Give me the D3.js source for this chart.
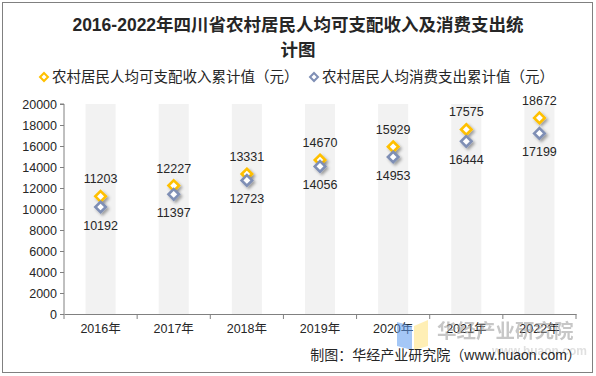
<!DOCTYPE html>
<html>
<head>
<meta charset="utf-8">
<script src="https://cdn.jsdelivr.net/npm/d3@7"></script>
<style>
  body { margin: 0; background: #fff; }
  text { font-family: "Liberation Sans", Arial, "Noto Sans CJK SC", sans-serif; }
</style>
</head>
<body>
<div id="container"></div>
<script>
/* CONSTANTS AND GLOBALS */
const width = 596;
const height = 376;
const margin = { top: 104, right: 20, bottom: 62, left: 64 };

/* DATA */
const years = ["2016年", "2017年", "2018年", "2019年", "2020年", "2021年", "2022年"];
const income = [11203, 12227, 13331, 14670, 15929, 17575, 18672];
const consumption = [10192, 11397, 12723, 14056, 14953, 16444, 17199];
const yTicks = [0, 2000, 4000, 6000, 8000, 10000, 12000, 14000, 16000, 18000, 20000];
const seriesNames = ["农村居民人均可支配收入累计值（元）", "农村居民人均消费支出累计值（元）"];
const colors = ["#FFC000", "#7F8FB5"];

const svg = d3.select("#container").append("svg")
  .attr("width", width)
  .attr("height", height);

const defs = svg.append("defs");
const f = defs.append("filter").attr("id", "shadow")
  .attr("x", "-50%").attr("y", "-50%").attr("width", "220%").attr("height", "220%");
f.append("feDropShadow").attr("dx", 2).attr("dy", 2).attr("stdDeviation", 1.6)
  .attr("flood-color", "#000").attr("flood-opacity", 0.35);

// frame
svg.append("rect")
  .attr("x", 2.5).attr("y", 2.5).attr("width", 590).attr("height", 370)
  .attr("fill", "none").attr("stroke", "#808080").attr("stroke-width", 1);

// title
const title = svg.append("text")
  .attr("text-anchor", "middle")
  .attr("font-family", "'Noto Sans CJK SC', sans-serif")
  .attr("font-size", 17.5).attr("font-weight", "bold").attr("fill", "#262626");
title.append("tspan").attr("x", 298).attr("y", 31).text("2016-2022年四川省农村居民人均可支配收入及消费支出统");
title.append("tspan").attr("x", 298).attr("y", 56).text("计图");

// legend
const legendX = [44, 314];
seriesNames.forEach((name, i) => {
  const g = svg.append("g").attr("transform", `translate(${legendX[i]},77)`);
  g.append("path").attr("d", d3.symbol(d3.symbolDiamond2, 40)())
    .attr("fill", "#fff").attr("stroke", colors[i]).attr("stroke-width", 2);
  g.append("text").attr("x", 8).attr("y", 5)
    .attr("font-family", "'Noto Sans CJK SC', sans-serif")
    .attr("font-size", 14.5).attr("fill", "#262626").text(name);
});

/* SCALES */
const xScale = d3.scaleBand()
  .domain(years)
  .range([margin.left, 576]);

const yScale = d3.scaleLinear()
  .domain([0, 20000])
  .range([height - margin.bottom, margin.top]);

// background columns
svg.selectAll("rect.col")
  .data(years)
  .join("rect")
  .attr("class", "col")
  .attr("x", d => xScale(d) + xScale.bandwidth() / 2 - 15)
  .attr("y", yScale(20000))
  .attr("width", 30)
  .attr("height", yScale(0) - yScale(20000))
  .attr("fill", "#F2F2F2");

// axes
const yAxis = d3.axisLeft(yScale).tickValues(yTicks).tickSize(4).tickFormat(d3.format("d"));
const yG = svg.append("g").attr("transform", `translate(${margin.left},0)`).call(yAxis);
yG.select(".domain").attr("stroke", "#808080").attr("d", `M-4,${yScale(20000)}H0V${yScale(0)}`);
yG.selectAll(".tick line").attr("stroke", "#808080");
yG.selectAll(".tick text").attr("font-size", 12.5).attr("fill", "#262626").attr("x", -7)
  .attr("font-family", "'Liberation Sans', Arial, sans-serif");

const xG = svg.append("g").attr("transform", `translate(0,${yScale(0)})`)
  .call(d3.axisBottom(xScale).tickSize(0).tickSizeOuter(0));
xG.select(".domain").attr("stroke", "#808080");
xG.selectAll(".tick text").attr("font-size", 12.5).attr("fill", "#262626").attr("dy", "1.25em")
  .attr("font-family", "'Liberation Sans', Arial, 'Noto Sans CJK SC', sans-serif");
xG.selectAll("line.sep")
  .data(years.map(d => xScale(d)).concat([xScale.range()[1]]))
  .join("line").attr("class", "sep")
  .attr("x1", d => d).attr("x2", d => d).attr("y1", 0).attr("y2", 5)
  .attr("stroke", "#808080");

// watermark
const wm = svg.append("g").attr("opacity", 0.55);
wm.append("polygon").attr("points", "397,322 412,326 412,350 397,346").attr("fill", "#5B9BF0");
wm.append("polygon").attr("points", "414,326 428,320 428,346 414,350").attr("fill", "#FFE27A");
wm.append("text").attr("x", 437).attr("y", 338)
  .attr("font-family", "'Noto Sans CJK SC', sans-serif")
  .attr("font-size", 19.5).attr("font-weight", "bold").attr("fill", "#9a9a9a")
  .text("华经产业研究院");
wm.append("text").attr("x", 492).attr("y", 355)
  .attr("font-size", 12).attr("font-weight", "bold").attr("fill", "#c8c8c8")
  .text("www.huaon.com");

// markers + labels
const series = [income, consumption];
series.forEach((vals, i) => {
  svg.selectAll(`path.m${i}`)
    .data(vals)
    .join("path")
    .attr("class", `m${i}`)
    .attr("transform", (d, j) => `translate(${xScale(years[j]) + xScale.bandwidth() / 2},${yScale(d)})`)
    .attr("d", d3.symbol(d3.symbolDiamond2, 70)())
    .attr("fill", "#fff")
    .attr("stroke", colors[i])
    .attr("stroke-width", 2.6)
    .attr("filter", "url(#shadow)");

  svg.selectAll(`text.l${i}`)
    .data(vals)
    .join("text")
    .attr("class", `l${i}`)
    .attr("x", (d, j) => xScale(years[j]) + xScale.bandwidth() / 2)
    .attr("y", d => yScale(d) + (i === 0 ? -13 : 23))
    .attr("text-anchor", "middle")
    .attr("font-size", 12.5)
    .attr("fill", "#262626")
    .text(d => d);
});

// source
svg.append("text").attr("x", 581).attr("y", 360).attr("text-anchor", "end")
  .attr("font-family", "'Noto Sans CJK SC', sans-serif")
  .attr("font-size", 14).attr("fill", "#262626")
  .text("制图：华经产业研究院（www.huaon.com）");
</script>
</body>
</html>
